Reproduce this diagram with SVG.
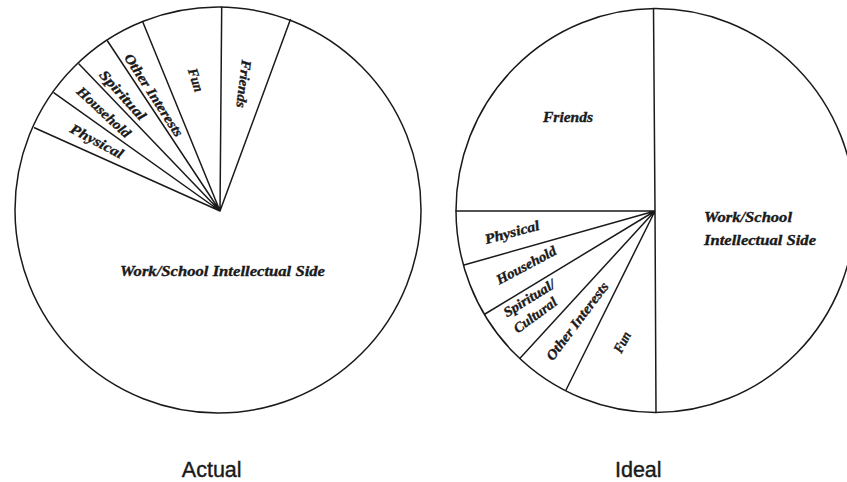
<svg xmlns="http://www.w3.org/2000/svg" width="847" height="482" viewBox="0 0 847 482">
<style>
.rim{fill:#fff;stroke:#1a1a1a;stroke-width:1.5}
.sp{stroke:#1a1a1a;stroke-width:1.5;fill:none;stroke-linecap:round}
.lb{font-family:"Liberation Serif","DejaVu Serif",serif;font-style:italic;font-weight:bold;fill:#1a1a1a;stroke:#1a1a1a;stroke-width:0.35;text-anchor:middle}
.ttl{font-family:"Liberation Sans",Arial,sans-serif;font-size:21.5px;fill:#1a1a1a;stroke:#1a1a1a;stroke-width:0.4;text-anchor:middle}
</style>
<rect width="847" height="482" fill="#fff"/>
<g id="actual-pie">
<circle class="rim" cx="218" cy="210" r="203"/>
</g>
<g id="ideal-pie">
<ellipse class="rim" cx="655.5" cy="210.5" rx="199.5" ry="202"/>
</g>
<g id="connectors">
<path class="sp" d="M220 211L290.4 19.6M220 211L221.7 7M220 211L142.9 22.2M220 211L107.5 41M220 211L79 64M220 211L54 92.8M220 211L34.4 127.7"/>
<path class="sp" d="M655 211L653.5 8.5M655 211L656 412.5M655 211L456 211M655 211L464 265M655 211L485 314M655 211L520 358.3M655 211L566 390"/>
</g>
<g id="actual-labels">
<g id="a-friends"><text class="lb" font-size="14" textLength="48" lengthAdjust="spacingAndGlyphs" dy="0.35em" transform="translate(244 84) rotate(97)">Friends</text></g>
<g id="a-fun"><text class="lb" font-size="14" textLength="24" lengthAdjust="spacingAndGlyphs" dy="0.35em" transform="translate(196 80) rotate(72)">Fun</text></g>
<g id="a-other"><text class="lb" font-size="14" textLength="96" lengthAdjust="spacingAndGlyphs" dy="0.35em" transform="translate(154 95) rotate(57)">Other Interests</text></g>
<g id="a-spiritual"><text class="lb" font-size="14" textLength="62" lengthAdjust="spacingAndGlyphs" dy="0.35em" transform="translate(123 95) rotate(48)">Spiritual</text></g>
<g id="a-household"><text class="lb" font-size="14" textLength="68" lengthAdjust="spacingAndGlyphs" dy="0.35em" transform="translate(104 112) rotate(43)">Household</text></g>
<g id="a-physical"><text class="lb" font-size="14" textLength="58" lengthAdjust="spacingAndGlyphs" dy="0.35em" transform="translate(97 141) rotate(28)">Physical</text></g>
<g id="a-work"><text class="lb" font-size="15" x="222.5" y="276" textLength="205" lengthAdjust="spacingAndGlyphs">Work/School Intellectual Side</text></g>
</g>
<g id="ideal-labels">
<g id="i-friends"><text class="lb" font-size="14" x="568" y="122" textLength="50" lengthAdjust="spacingAndGlyphs">Friends</text></g>
<g id="i-work"><text class="lb" font-size="14.5" style="text-anchor:start" x="704" y="221.5" textLength="88" lengthAdjust="spacingAndGlyphs">Work/School</text><text class="lb" font-size="14.5" style="text-anchor:start" x="704" y="245" textLength="112" lengthAdjust="spacingAndGlyphs">Intellectual Side</text></g>
<g id="i-physical"><text class="lb" font-size="14" textLength="56" lengthAdjust="spacingAndGlyphs" dy="0.35em" transform="translate(512 232) rotate(-15)">Physical</text></g>
<g id="i-household"><text class="lb" font-size="14" textLength="66" lengthAdjust="spacingAndGlyphs" dy="0.35em" transform="translate(526 265) rotate(-28)">Household</text></g>
<g id="i-spiritual"><text class="lb" font-size="14" textLength="58" lengthAdjust="spacingAndGlyphs" dy="0.35em" transform="translate(529 298) rotate(-32)">Spiritual/</text><text class="lb" font-size="14" textLength="50" lengthAdjust="spacingAndGlyphs" dy="0.35em" transform="translate(535 315) rotate(-36)">Cultural</text></g>
<g id="i-other"><text class="lb" font-size="14" textLength="94" lengthAdjust="spacingAndGlyphs" dy="0.35em" transform="translate(577 321) rotate(-53)">Other Interests</text></g>
<g id="i-fun"><text class="lb" font-size="14" textLength="22" lengthAdjust="spacingAndGlyphs" dy="0.35em" transform="translate(622 342) rotate(-62)">Fun</text></g>
</g>
<g id="titles">
<text class="ttl" x="211.7" y="476.5">Actual</text>
<text class="ttl" x="638.3" y="476.5">Ideal</text>
</g>
</svg>
